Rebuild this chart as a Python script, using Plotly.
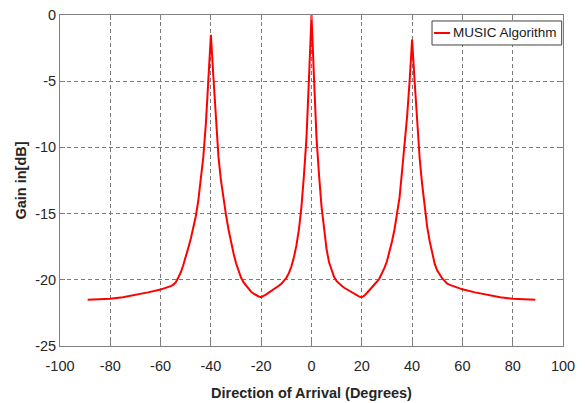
import plotly.graph_objects as go

# Direction of arrival (degrees)
doa_deg = [-89, -85, -80, -75, -70, -65, -60, -58, -57, -56, -55, -54, -53, -52, -51,
           -50, -49, -48, -47, -46, -45, -44, -43, -42, -41, -40, -39, -38, -37, -36,
           -35, -34, -33, -32, -31, -30, -29, -28, -27, -26, -25, -24, -23, -22, -21,
           -20, -19, -18, -17, -16, -15, -14, -13, -12, -11, -10, -9, -8, -7, -6,
           -5, -4, -3, -2, -1, 0, 1, 2, 3, 4, 5, 6, 7, 8, 9,
           10, 11, 12, 13, 14, 15, 16, 17, 18, 19, 20, 21, 22, 23, 24,
           25, 26, 27, 28, 29, 30, 31, 32, 33, 34, 35, 36, 37, 38, 39,
           40, 41, 42, 43, 44, 45, 46, 47, 48, 49, 50, 51, 52, 53, 54,
           55, 56, 57, 58, 60, 65, 70, 75, 80, 85, 89]

# MUSIC pseudo-spectrum gain (dB)
gain_db = [-21.50, -21.48, -21.43, -21.32, -21.15, -20.95, -20.74, -20.63, -20.56, -20.48, -20.38, -20.20, -19.85, -19.45, -18.90,
           -18.30, -17.60, -16.90, -16.10, -15.20, -14.00, -12.50, -10.70, -8.20, -4.70, -1.50, -4.70, -8.20, -10.70, -12.50,
           -13.90, -15.10, -16.20, -17.20, -18.00, -18.75, -19.35, -19.85, -20.20, -20.45, -20.70, -20.90, -21.05, -21.17, -21.26,
           -21.32, -21.23, -21.10, -20.97, -20.85, -20.73, -20.60, -20.45, -20.30, -20.10, -19.85, -19.50, -19.00, -18.30, -17.40,
           -16.20, -14.50, -12.10, -9.30, -4.80, 0.00, -4.80, -9.30, -12.10, -14.50, -16.10, -17.70, -18.70, -19.35, -19.80,
           -20.10, -20.30, -20.45, -20.60, -20.72, -20.85, -20.97, -21.08, -21.18, -21.27, -21.32, -21.20, -21.00, -20.80, -20.60,
           -20.40, -20.15, -19.90, -19.55, -19.10, -18.60, -17.90, -17.10, -16.20, -15.10, -13.80, -11.80, -9.90, -7.70, -5.00,
           -1.85, -5.00, -8.20, -10.80, -12.80, -14.60, -16.00, -17.10, -18.00, -18.80, -19.30, -19.65, -19.90, -20.10, -20.30,
           -20.38, -20.46, -20.53, -20.60, -20.72, -20.95, -21.15, -21.32, -21.43, -21.48, -21.50]

x_ticks = [-100, -80, -60, -40, -20, 0, 20, 40, 60, 80, 100]
y_ticks = [-25, -20, -15, -10, -5, 0]
series_name = "MUSIC Algorithm"
series_color = "#ff0000"

FONT = "Liberation Sans, Arial, Helvetica, sans-serif"
FS = 14.5

fig = go.Figure()
fig.add_trace(go.Scatter(
    x=doa_deg, y=gain_db, mode="lines", name=series_name,
    line=dict(color=series_color, width=2), showlegend=False,
))

axis_common = dict(
    showline=True, linecolor="#808080", linewidth=1, mirror="ticks",
    ticks="inside", ticklen=5, tickcolor="#808080",
    showgrid=True, gridcolor="#7a7a7a", gridwidth=1, griddash="4px,3px",
    zeroline=False, automargin=False,
    tickfont=dict(family=FONT, size=FS, color="#262626"),
)

fig.update_xaxes(
    range=[-100, 100], tickvals=x_ticks, ticktext=[str(v) for v in x_ticks],
    ticklabelstandoff=7,
    title=dict(text="<b>Direction of Arrival (Degrees)</b>",
               font=dict(family=FONT, size=FS, color="#262626"), standoff=14),
    **axis_common,
)
fig.update_yaxes(
    range=[-25, 0], tickvals=y_ticks, ticktext=[str(v) for v in y_ticks],
    title=dict(text="<b>Gain in[dB]</b>",
               font=dict(family=FONT, size=FS, color="#262626"), standoff=5),
    **axis_common,
)

# Compact MATLAB-style legend box (paper coordinates)
lg_x0, lg_x1, lg_y0, lg_y1 = 0.7396, 0.9974, 0.9094, 0.982
lg_ym = (lg_y0 + lg_y1) / 2
fig.add_shape(type="rect", xref="paper", yref="paper",
              x0=lg_x0, x1=lg_x1, y0=lg_y0, y1=lg_y1,
              line=dict(color="#404040", width=1), fillcolor="white", layer="above")
fig.add_shape(type="line", xref="paper", yref="paper",
              x0=0.7435, x1=0.7753, y0=lg_ym, y1=lg_ym,
              line=dict(color=series_color, width=2), layer="above")
fig.add_annotation(xref="paper", yref="paper", x=0.992, y=lg_ym,
                   xanchor="right", yanchor="middle", showarrow=False,
                   text=series_name, font=dict(family=FONT, size=13.5, color="#1a1a1a"))

fig.update_layout(
    width=585, height=403,
    margin=dict(l=60, r=22, t=15, b=57),
    paper_bgcolor="white", plot_bgcolor="white",
    showlegend=False,
)

fig.write_html("out.html")
